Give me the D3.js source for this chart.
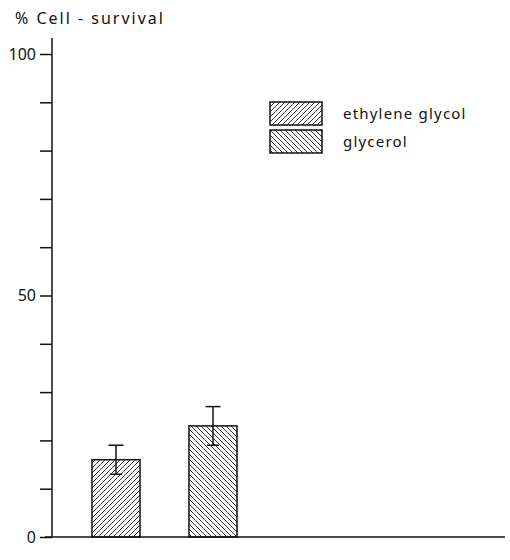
<!DOCTYPE html>
<html>
<head>
<meta charset="utf-8">
<script src="https://cdn.jsdelivr.net/npm/d3@7"></script>
<style>
	body { margin: 0; background: #fff; }
	text { font-family: "Noto Sans", "DejaVu Sans", sans-serif; fill: #111; }
</style>
</head>
<body>
<div id="chart"></div>
<script>

// data
var categories = ['ethylene glycol', 'glycerol'];
var survival = [16, 23];
var errorHigh = [19, 27];
var errorLow = [13, 19];
var patterns = ['hatchUp', 'hatchDown'];
var yTicks = [0, 10, 20, 30, 40, 50, 60, 70, 80, 90, 100];
var yLabels = [0, 50, 100];

var width = 510,
	height = 560;

var svg = d3.select('#chart')
	.append('svg')
	.attr('width', width)
	.attr('height', height);

// hatching patterns
var defs = svg.append('defs');

defs.append('pattern')
	.attr('id', 'hatchUp')
	.attr('patternUnits', 'userSpaceOnUse')
	.attr('width', 5)
	.attr('height', 5)
	.append('path')
	.attr('d', 'M-1,1 l2,-2 M0,5 l5,-5 M4,6 l2,-2')
	.style('stroke', '#333')
	.style('stroke-width', 1);

defs.append('pattern')
	.attr('id', 'hatchDown')
	.attr('patternUnits', 'userSpaceOnUse')
	.attr('width', 5)
	.attr('height', 5)
	.append('path')
	.attr('d', 'M-1,4 l2,2 M0,0 l5,5 M4,-1 l2,2')
	.style('stroke', '#333')
	.style('stroke-width', 1);

var y = d3.scaleLinear()
	.domain([0, 100])
	.range([537, 54]);

var x = d3.scaleBand()
	.domain(categories)
	.range([67.5, 261.5])
	.paddingInner(0.505)
	.paddingOuter(0.2525);

// y axis
var yAxis = d3.axisLeft(y)
	.tickValues(yTicks)
	.tickSize(12)
	.tickPadding(4)
	.tickFormat(function(d) {
		return yLabels.indexOf(d) >= 0 ? d : '';
	});

var gy = svg.append('g')
	.attr('transform', 'translate(52,0)')
	.call(yAxis);

gy.select('.domain').remove();
gy.selectAll('.tick line')
	.style('stroke', '#111')
	.style('stroke-width', 1.5);
gy.selectAll('.tick text')
	.style('font-size', '16px')
	.style('font-family', '"Noto Sans", sans-serif')
	.style('fill', '#111');

// axis lines
svg.append('line')
	.attr('x1', 52).attr('x2', 52)
	.attr('y1', 38).attr('y2', y(0))
	.style('stroke', '#111')
	.style('stroke-width', 1.5);

svg.append('line')
	.attr('x1', 45).attr('x2', 505)
	.attr('y1', y(0)).attr('y2', y(0))
	.style('stroke', '#111')
	.style('stroke-width', 1.5);

// title
svg.append('text')
	.attr('x', 15)
	.attr('y', 24)
	.style('font-size', '16px')
	.style('letter-spacing', '2px')
	.text('% Cell - survival');

// bars
svg.selectAll('rect.bar')
	.data(categories)
	.enter()
	.append('rect')
	.classed('bar', true)
	.attr('x', function(d) { return x(d); })
	.attr('y', function(d, i) { return y(survival[i]); })
	.attr('width', x.bandwidth())
	.attr('height', function(d, i) { return y(0) - y(survival[i]); })
	.style('fill', function(d, i) { return 'url(#' + patterns[i] + ')'; })
	.style('stroke', '#111')
	.style('stroke-width', 1.5);

// error bars
var err = svg.selectAll('g.err')
	.data(categories)
	.enter()
	.append('g')
	.classed('err', true);

err.append('line')
	.attr('x1', function(d) { return x(d) + x.bandwidth() / 2; })
	.attr('x2', function(d) { return x(d) + x.bandwidth() / 2; })
	.attr('y1', function(d, i) { return y(errorHigh[i]); })
	.attr('y2', function(d, i) { return y(errorLow[i]); });

err.append('line')
	.attr('x1', function(d) { return x(d) + x.bandwidth() / 2 - 7.5; })
	.attr('x2', function(d) { return x(d) + x.bandwidth() / 2 + 7.5; })
	.attr('y1', function(d, i) { return y(errorHigh[i]); })
	.attr('y2', function(d, i) { return y(errorHigh[i]); });

err.append('line')
	.attr('x1', function(d) { return x(d) + x.bandwidth() / 2 - 6; })
	.attr('x2', function(d) { return x(d) + x.bandwidth() / 2 + 6; })
	.attr('y1', function(d, i) { return y(errorLow[i]); })
	.attr('y2', function(d, i) { return y(errorLow[i]); });

err.selectAll('line')
	.style('stroke', '#111')
	.style('stroke-width', 1.5);

// legend
var legend = svg.selectAll('g.legend')
	.data(categories)
	.enter()
	.append('g')
	.classed('legend', true)
	.attr('transform', function(d, i) { return 'translate(270,' + (102 + i * 28) + ')'; });

legend.append('rect')
	.attr('width', 52)
	.attr('height', 23)
	.style('fill', function(d, i) { return 'url(#' + patterns[i] + ')'; })
	.style('stroke', '#111')
	.style('stroke-width', 1.5);

legend.append('text')
	.attr('x', 73)
	.attr('y', 17)
	.style('font-size', '15px')
	.style('letter-spacing', '1.2px')
	.text(function(d) { return d; });

</script>
</body>
</html>
